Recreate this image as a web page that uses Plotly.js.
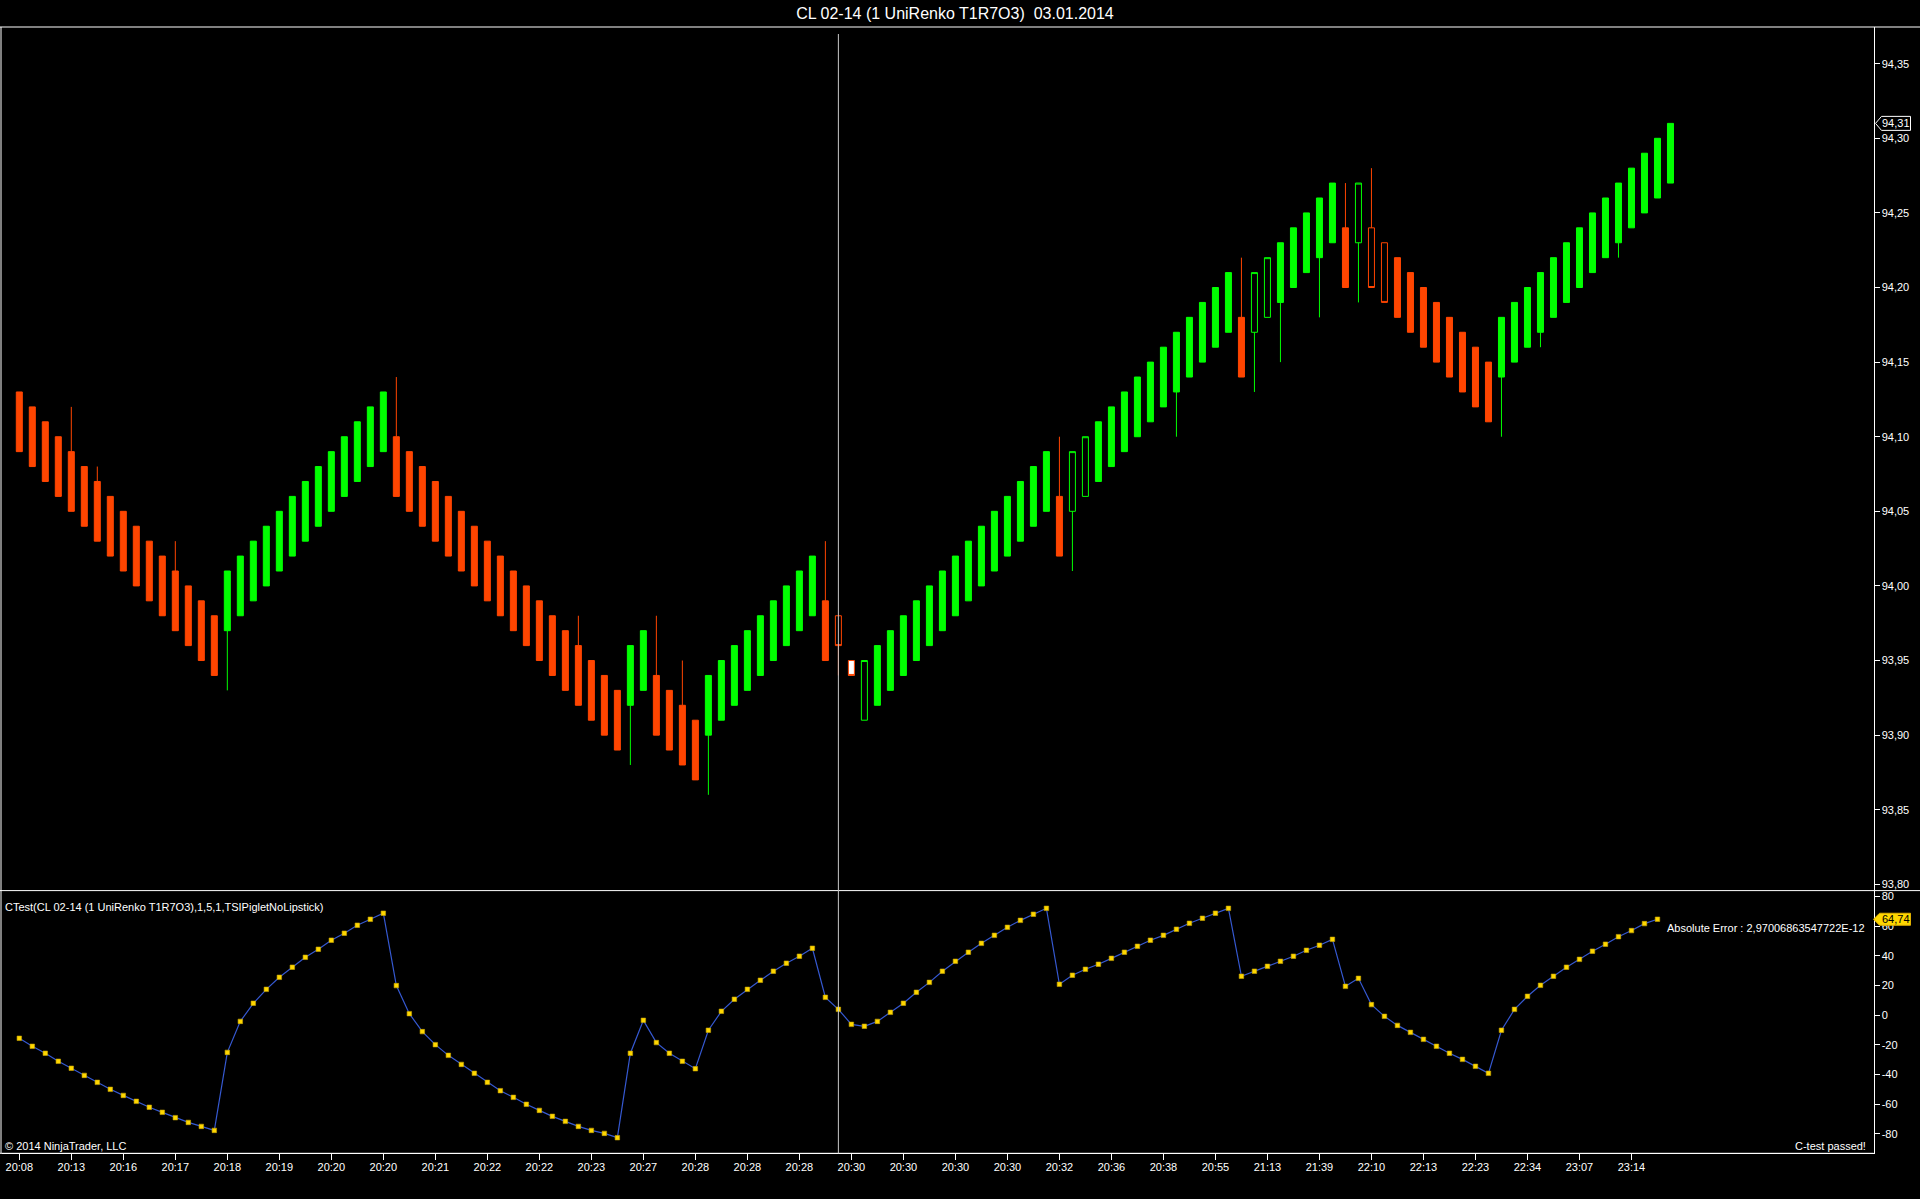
<!DOCTYPE html>
<html><head><meta charset="utf-8">
<script src="https://cdn.plot.ly/plotly-3.0.1.min.js"></script>
<style>html,body{margin:0;padding:0;background:#000;}#chart{width:1920px;height:1199px;}</style>
</head><body><div id="chart"></div>
<script>
// ---- price bars (UniRenko T1R7O3) ----
const opens = [
 94.13,94.12,94.11,94.10,94.09,94.08,94.07,94.06,94.05,94.04,
 94.03,94.02,94.01,94.00,93.99,93.98,93.97,93.98,93.99,94.00,
 94.01,94.02,94.03,94.04,94.05,94.06,94.07,94.08,94.09,94.10,
 94.09,94.08,94.07,94.06,94.05,94.04,94.03,94.02,94.01,94.00,
 93.99,93.98,93.97,93.96,93.95,93.94,93.93,93.92,93.93,93.94,
 93.93,93.92,93.91,93.90,93.91,93.92,93.93,93.94,93.95,93.96,
 93.97,93.98,93.99,93.98,93.95,93.91,93.92,93.93,93.94,93.95,
 93.96,93.97,93.98,93.99,94.00,94.01,94.02,94.03,94.04,94.05,
 94.06,94.05,94.06,94.07,94.08,94.09,94.10,94.11,94.12,94.13,
 94.14,94.15,94.16,94.17,94.18,94.17,94.18,94.19,94.20,94.21,
 94.22,94.23,94.24,94.23,94.24,94.23,94.22,94.21,94.20,94.19,
 94.18,94.17,94.16,94.15,94.14,94.15,94.16,94.17,94.18,94.19,
 94.20,94.21,94.22,94.23,94.24,94.25,94.26,94.27];
const highs = [
 94.13,94.12,94.11,94.10,94.12,94.08,94.08,94.06,94.05,94.04,
 94.03,94.02,94.03,94.00,93.99,93.98,94.01,94.02,94.03,94.04,
 94.05,94.06,94.07,94.08,94.09,94.10,94.11,94.12,94.13,94.14,
 94.09,94.08,94.07,94.06,94.05,94.04,94.03,94.02,94.01,94.00,
 93.99,93.98,93.97,93.98,93.95,93.94,93.93,93.96,93.97,93.98,
 93.93,93.95,93.91,93.94,93.95,93.96,93.97,93.98,93.99,94.00,
 94.01,94.02,94.03,93.98,93.95,93.95,93.96,93.97,93.98,93.99,
 94.00,94.01,94.02,94.03,94.04,94.05,94.06,94.07,94.08,94.09,
 94.10,94.09,94.10,94.11,94.12,94.13,94.14,94.15,94.16,94.17,
 94.18,94.19,94.20,94.21,94.22,94.21,94.22,94.23,94.24,94.25,
 94.26,94.27,94.27,94.27,94.28,94.23,94.22,94.21,94.20,94.19,
 94.18,94.17,94.16,94.15,94.18,94.19,94.20,94.21,94.22,94.23,
 94.24,94.25,94.26,94.27,94.28,94.29,94.30,94.31];
const lows = [
 94.09,94.08,94.07,94.06,94.05,94.04,94.03,94.02,94.01,94.00,
 93.99,93.98,93.97,93.96,93.95,93.94,93.93,93.98,93.99,94.00,
 94.01,94.02,94.03,94.04,94.05,94.06,94.07,94.08,94.09,94.06,
 94.05,94.04,94.03,94.02,94.01,94.00,93.99,93.98,93.97,93.96,
 93.95,93.94,93.93,93.92,93.91,93.90,93.89,93.88,93.93,93.90,
 93.89,93.88,93.87,93.86,93.91,93.92,93.93,93.94,93.95,93.96,
 93.97,93.98,93.95,93.94,93.94,93.91,93.92,93.93,93.94,93.95,
 93.96,93.97,93.98,93.99,94.00,94.01,94.02,94.03,94.04,94.05,
 94.02,94.01,94.06,94.07,94.08,94.09,94.10,94.11,94.12,94.10,
 94.14,94.15,94.16,94.17,94.14,94.13,94.18,94.15,94.20,94.21,
 94.18,94.23,94.20,94.19,94.20,94.19,94.18,94.17,94.16,94.15,
 94.14,94.13,94.12,94.11,94.10,94.15,94.16,94.16,94.18,94.19,
 94.20,94.21,94.22,94.22,94.24,94.25,94.26,94.27];
const closes = [
 94.09,94.08,94.07,94.06,94.05,94.04,94.03,94.02,94.01,94.00,
 93.99,93.98,93.97,93.96,93.95,93.94,94.01,94.02,94.03,94.04,
 94.05,94.06,94.07,94.08,94.09,94.10,94.11,94.12,94.13,94.06,
 94.05,94.04,94.03,94.02,94.01,94.00,93.99,93.98,93.97,93.96,
 93.95,93.94,93.93,93.92,93.91,93.90,93.89,93.96,93.97,93.90,
 93.89,93.88,93.87,93.94,93.95,93.96,93.97,93.98,93.99,94.00,
 94.01,94.02,93.95,93.96,93.94,93.95,93.96,93.97,93.98,93.99,
 94.00,94.01,94.02,94.03,94.04,94.05,94.06,94.07,94.08,94.09,
 94.02,94.09,94.10,94.11,94.12,94.13,94.14,94.15,94.16,94.17,
 94.18,94.19,94.20,94.21,94.14,94.21,94.22,94.23,94.24,94.25,
 94.26,94.27,94.20,94.27,94.20,94.19,94.18,94.17,94.16,94.15,
 94.14,94.13,94.12,94.11,94.18,94.19,94.20,94.21,94.22,94.23,
 94.24,94.25,94.26,94.27,94.28,94.29,94.30,94.31];
// bars painted as outline only, and the highlighted bar
const outlineBars = [64,66,82,83,96,97,104,105,106];
const highlightBar = 65;
const crosshairBar = 64;

// ---- CTest indicator (one value per bar, last bar has none) ----
const ctest = [
 -15.5,-20.9,-25.6,-31.0,-35.7,-40.5,-45.2,-49.9,-54.0,-58.0,
 -62.0,-65.4,-69.0,-72.2,-74.9,-77.6,-25.0,-4.1,8.1,17.5,
 25.6,32.4,39.1,44.5,50.6,55.3,60.7,64.7,68.8,20.0,
 1.1,-11.0,-19.8,-27.0,-33.1,-39.1,-45.2,-50.8,-55.3,-60.0,
 -64.1,-68.1,-71.5,-74.9,-77.6,-79.6,-82.5,-25.6,-3.4,-18.4,
 -25.6,-31.0,-36.0,-10.1,2.7,10.8,17.5,23.6,29.7,35.1,
 39.8,45.2,12.1,4.0,-6.1,-7.4,-4.1,2.0,8.1,15.5,
 22.2,29.7,36.4,42.5,48.5,53.9,59.3,64.0,68.1,72.1,
 20.9,27.0,31.0,34.4,38.4,42.5,46.5,50.6,53.9,58.0,
 62.0,65.4,68.8,72.1,26.3,29.7,33.0,36.4,39.8,43.8,
 47.2,51.2,19.5,24.9,7.2,-0.7,-6.8,-11.5,-16.2,-20.9,
 -25.6,-29.7,-34.4,-39.1,-10.1,4.0,12.8,20.2,26.3,32.4,
 37.7,43.2,47.9,53.0,57.1,61.8,64.74,null];

// ---- axis labels ----
const timeLabels = ['20:08','20:13','20:16','20:17','20:18','20:19','20:20','20:20','20:21','20:22','20:22','20:23',
 '20:27','20:28','20:28','20:28','20:30','20:30','20:30','20:30','20:32','20:36','20:38','20:55',
 '21:13','21:39','22:10','22:13','22:23','22:34','23:07','23:14'];
const oscTickVals = [-80,-60,-40,-20,0,20,40,60,80];
const oscTickText = ['-80','-60','-40','-20','0','20','40','60','80'];

const titleText = 'CL 02-14 (1 UniRenko T1R7O3) \u00a003.01.2014';
const indicatorText = 'CTest(CL 02-14 (1 UniRenko T1R7O3),1,5,1,TSIPigletNoLipstick)';
const errorText = 'Absolute Error : 2,97006863547722E-12';

// ---------------------------------------------------------------
const W = 1920, H = 1199;
const px = v => v / W;            // horizontal pixel -> paper
const py = v => 1 - v / H;        // vertical pixel (from top) -> paper

const RED = '#FF4500', GREEN = '#00FF00';
const barNumbers = opens.map((_, i) => i + 1);
const tickBars = barNumbers.filter(b => (b - 1) % 4 === 0).slice(0, timeLabels.length);

function subset(pred) {
  const idx = barNumbers.filter(pred);
  return { x: idx, open: idx.map(b => opens[b-1]), high: idx.map(b => highs[b-1]),
           low: idx.map(b => lows[b-1]), close: idx.map(b => closes[b-1]) };
}
const isOutline = b => outlineBars.includes(b);

function candle(sub, upLine, upFill, dnLine, dnFill) {
  return Object.assign({
    type: 'candlestick', xaxis: 'x', yaxis: 'y', hoverinfo: 'skip', whiskerwidth: 0,
    increasing: { line: { color: upLine, width: 1 }, fillcolor: upFill },
    decreasing: { line: { color: dnLine, width: 1 }, fillcolor: dnFill }
  }, sub);
}

const traces = [
  candle(subset(b => !isOutline(b) && b !== highlightBar), GREEN, GREEN, RED, RED),
  candle(subset(b => isOutline(b)), GREEN, 'rgba(0,0,0,0)', RED, 'rgba(0,0,0,0)'),
  candle(subset(b => b === highlightBar), RED, '#FFFFFF', RED, '#FFFFFF'),
  {
    type: 'scatter', mode: 'lines+markers', x: barNumbers, y: ctest, xaxis: 'x', yaxis: 'y2',
    hoverinfo: 'skip', connectgaps: false,
    line: { color: '#3558D0', width: 1.2 },
    marker: { symbol: 'square', size: 4.5, color: '#FFD700', line: { color: '#C8A400', width: 0.6 } }
  }
];

const lastClose = closes[closes.length - 1];
const lastCtest = ctest.filter(v => v !== null).slice(-1)[0];
const fmt = v => v.toFixed(2).replace('.', ',');

const axisX = 1873.5;
const mainTop = 27, mainBottom = 890.6, oscBottom = 1153.3;

const layout = {
  width: W, height: H,
  margin: { l: 0, r: 0, t: 0, b: 0, pad: 0 },
  paper_bgcolor: '#000', plot_bgcolor: '#000',
  separators: ',.',
  showlegend: false,
  boxgap: 0.3, boxgroupgap: 0.34,
  font: { family: 'Liberation Sans, Arial, sans-serif', size: 11, color: '#FFFFFF' },
  title: { text: titleText, x: px(955), xanchor: 'center', y: py(13.5), yanchor: 'middle',
           yref: 'container', xref: 'container',
           font: { family: 'Liberation Sans, Arial, sans-serif', size: 16, color: '#FFFFFF' } },
  xaxis: {
    domain: [px(1.5), px(axisX)], range: [-0.369, 143.615], anchor: 'y2',
    showgrid: false, zeroline: false, showline: true, linecolor: '#FFFFFF', linewidth: 1,
    ticks: 'outside', ticklen: 6, tickcolor: '#FFFFFF', tickwidth: 1, ticklabelstandoff: -3,
    tickmode: 'array', tickvals: tickBars, ticktext: timeLabels,
    tickfont: { size: 11, color: '#FFFFFF' },
    rangeslider: { visible: false }, fixedrange: true, automargin: false
  },
  yaxis: {
    domain: [py(mainBottom), py(mainTop)], range: [93.7958, 94.3746], anchor: 'x', side: 'right',
    showgrid: false, zeroline: false, showline: true, linecolor: '#FFFFFF', linewidth: 1,
    ticks: 'outside', ticklen: 5, tickcolor: '#FFFFFF',
    tick0: 93.8, dtick: 0.05, tickformat: '.2f',
    tickfont: { size: 11, color: '#FFFFFF' }, fixedrange: true, automargin: false
  },
  yaxis2: {
    domain: [py(oscBottom), py(mainBottom)], range: [-93.02, 84.05], anchor: 'x', side: 'right',
    showgrid: false, zeroline: false, showline: true, linecolor: '#FFFFFF', linewidth: 1,
    ticks: 'outside', ticklen: 5, tickcolor: '#FFFFFF',
    tickmode: 'array', tickvals: oscTickVals, ticktext: oscTickText,
    tickfont: { size: 11, color: '#FFFFFF' }, fixedrange: true, automargin: false
  },
  shapes: [
    { type: 'line', xref: 'paper', yref: 'paper', x0: 0, x1: 1, y0: py(mainTop), y1: py(mainTop),
      line: { color: '#FFFFFF', width: 1 } },
    { type: 'line', xref: 'paper', yref: 'paper', x0: px(1), x1: px(1), y0: py(oscBottom), y1: py(mainTop),
      line: { color: '#FFFFFF', width: 1 } },
    { type: 'line', xref: 'paper', yref: 'paper', x0: 0, x1: 1, y0: py(mainBottom), y1: py(mainBottom),
      line: { color: '#FFFFFF', width: 1 } },
    { type: 'line', xref: 'paper', yref: 'paper', x0: 0, x1: px(axisX), y0: py(oscBottom), y1: py(oscBottom),
      line: { color: '#FFFFFF', width: 1 } },
    { type: 'line', xref: 'x', yref: 'paper', x0: crosshairBar, x1: crosshairBar, y0: py(oscBottom), y1: py(34),
      line: { color: '#C8C8C8', width: 1 }, layer: 'above' },
    { type: 'path', xref: 'paper', xsizemode: 'pixel', xanchor: px(axisX + 1), yref: 'y', ysizemode: 'pixel',
      yanchor: lastClose, path: 'M 1,0 L 7,7 L 36,7 L 36,-7 L 7,-7 Z',
      fillcolor: '#000000', line: { color: '#FFFFFF', width: 1 } },
    { type: 'path', xref: 'paper', xsizemode: 'pixel', xanchor: px(axisX), yref: 'y2', ysizemode: 'pixel',
      yanchor: lastCtest, path: 'M 0,0 L 6,6 L 37,6 L 37,-6 L 6,-6 Z',
      fillcolor: '#FFD700', line: { color: '#E0B000', width: 1 } }
  ],
  annotations: [
    { xref: 'paper', yref: 'paper', x: px(3), y: py(907), xanchor: 'left', yanchor: 'middle', showarrow: false,
      text: indicatorText, font: { size: 11, color: '#FFFFFF' } },
    { xref: 'paper', yref: 'paper', x: px(3), y: py(1146), xanchor: 'left', yanchor: 'middle', showarrow: false,
      text: '\u00a9 2014 NinjaTrader, LLC', font: { size: 11, color: '#FFFFFF' } },
    { xref: 'paper', yref: 'paper', x: px(1867), y: py(928), xanchor: 'right', yanchor: 'middle', showarrow: false,
      text: errorText, font: { size: 11, color: '#FFFFFF' } },
    { xref: 'paper', yref: 'paper', x: px(1868), y: py(1146), xanchor: 'right', yanchor: 'middle', showarrow: false,
      text: 'C-test passed!', font: { size: 11, color: '#FFFFFF' } },
    { xref: 'paper', yref: 'y', x: px(axisX + 22), y: lastClose, xanchor: 'center', yanchor: 'middle', showarrow: false,
      text: fmt(lastClose), font: { size: 11, color: '#FFFFFF' } },
    { xref: 'paper', yref: 'y2', x: px(axisX + 22), y: lastCtest, xanchor: 'center', yanchor: 'middle', showarrow: false,
      text: fmt(lastCtest), font: { size: 11, color: '#000000' } }
  ]
};

Plotly.newPlot('chart', traces, layout, { displayModeBar: false, staticPlot: true });
</script>
</body></html>
